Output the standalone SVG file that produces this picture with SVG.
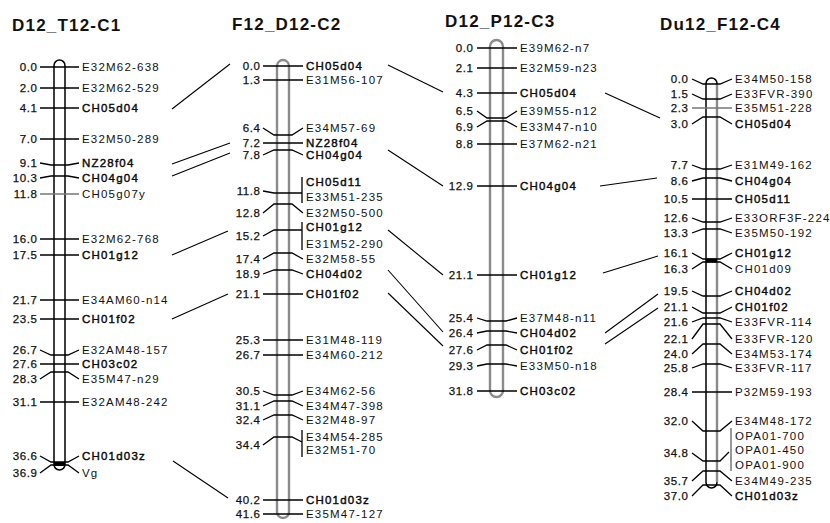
<svg xmlns="http://www.w3.org/2000/svg" width="830" height="523" viewBox="0 0 830 523">
<style>
text{font-family:"Liberation Sans",Arial,Helvetica,sans-serif;fill:#111}
.ttl{font-size:17px;font-weight:bold;letter-spacing:1.2px}
.nm{font-size:11.5px;letter-spacing:1.2px}
.num{font-size:11.5px;letter-spacing:0.6px;text-anchor:end;stroke:#111;stroke-width:0.25}
.ssr{stroke:#000;stroke-width:0.4}
.tk{fill:none;stroke:#000;stroke-width:1.3}
.lt{stroke:#777}
.br{fill:none;stroke:#000;stroke-width:1.3}
.bk{fill:#fff;stroke:#000;stroke-width:1.5}
.bg{fill:#fff;stroke:#8a8a8a;stroke-width:2.4}
.cn line{stroke:#000;stroke-width:1.1}
</style>

<g id="connectors" class="cn">
<line x1="172" y1="109" x2="230" y2="64"/>
<line x1="172" y1="164" x2="230" y2="143"/>
<line x1="172" y1="176" x2="230" y2="153"/>
<line x1="172" y1="255" x2="228" y2="231"/>
<line x1="172" y1="319" x2="228" y2="294"/>
<line x1="173" y1="461" x2="228" y2="498"/>
<line x1="388" y1="65" x2="443" y2="92"/>
<line x1="388" y1="150" x2="443" y2="186"/>
<line x1="388" y1="230" x2="443" y2="275"/>
<line x1="388" y1="270" x2="443" y2="332"/>
<line x1="388" y1="293" x2="443" y2="346"/>
<line x1="605" y1="93" x2="660" y2="118"/>
<line x1="600" y1="186" x2="657" y2="178"/>
<line x1="603" y1="273" x2="658" y2="256"/>
<line x1="605" y1="333" x2="658" y2="294"/>
<line x1="605" y1="344" x2="658" y2="308"/>
</g>

<g id="chr1">
<text class="ttl" x="12" y="31">D12_T12-C1</text>
<rect class="bk" x="54" y="60" width="11" height="410" rx="5.5"/>
<rect x="54" y="462" width="11" height="4" fill="#000"/>
<path class="tk" d="M40 67H79M40 88H79M40 108H79M40 139H79M40 163L51 165H68L79 163M40 178L51 176H68L79 178M40 239H79M40 255H79M40 300H79M40 319H79M40 350L51 355H68L79 350M40 364H79M40 379L51 372H68L79 379M40 402H79M40 456L51 462H68L79 456M40 473L51 465H68L79 473"/>
<path class="tk lt" d="M40 194H79"/>
<g>
<text class="num" x="37.6" y="71">0.0</text><text class="nm" x="82" y="71">E32M62-638</text>
<text class="num" x="37.6" y="92">2.0</text><text class="nm" x="82" y="92">E32M62-529</text>
<text class="num" x="37.6" y="112">4.1</text><text class="nm ssr" x="82" y="112">CH05d04</text>
<text class="num" x="37.6" y="143">7.0</text><text class="nm" x="82" y="143">E32M50-289</text>
<text class="num" x="37.6" y="167">9.1</text><text class="nm ssr" x="82" y="167">NZ28f04</text>
<text class="num" x="37.6" y="182">10.3</text><text class="nm ssr" x="82" y="182">CH04g04</text>
<text class="num" x="37.6" y="198">11.8</text><text class="nm" x="82" y="198">CH05g07y</text>
<text class="num" x="37.6" y="243">16.0</text><text class="nm" x="82" y="243">E32M62-768</text>
<text class="num" x="37.6" y="259">17.5</text><text class="nm ssr" x="82" y="259">CH01g12</text>
<text class="num" x="37.6" y="304">21.7</text><text class="nm" x="82" y="304">E34AM60-n14</text>
<text class="num" x="37.6" y="323">23.5</text><text class="nm ssr" x="82" y="323">CH01f02</text>
<text class="num" x="37.6" y="354">26.7</text><text class="nm" x="82" y="354">E32AM48-157</text>
<text class="num" x="37.6" y="368">27.6</text><text class="nm ssr" x="82" y="368">CH03c02</text>
<text class="num" x="37.6" y="383">28.3</text><text class="nm" x="82" y="383">E35M47-n29</text>
<text class="num" x="37.6" y="406">31.1</text><text class="nm" x="82" y="406">E32AM48-242</text>
<text class="num" x="37.6" y="460">36.6</text><text class="nm ssr" x="82" y="460">CH01d03z</text>
<text class="num" x="37.6" y="477">36.9</text><text class="nm" x="82" y="477">Vg</text>
</g>
</g>

<g id="chr2">
<text class="ttl" x="232" y="30">F12_D12-C2</text>
<rect class="bg" x="277" y="60" width="12" height="458" rx="6"/>
<path class="tk" d="M263 66H303M263 80H303M263 128L274 135H292L303 128M263 143H303M263 155L274 150H292L303 155M263 191L274 193H302M263 213L274 204H292L303 213M263 236L274 230H302M263 259L274 253H292L303 259M263 274L274 270H292L303 274M263 294H303M263 340H303M263 355H303M263 391L274 395H292L303 391M263 406L274 401H292L303 406M263 420L274 415H292L303 420M263 445L274 437H292L302 442M263 500H303M263 514H303"/>
<path class="br" d="M302 177V203M302 222V250M302 430V457"/>
<g>
<text class="num" x="260.6" y="70">0.0</text><text class="nm ssr" x="306" y="70">CH05d04</text>
<text class="num" x="260.6" y="84">1.3</text><text class="nm" x="306" y="84">E31M56-107</text>
<text class="num" x="260.6" y="132">6.4</text><text class="nm" x="306" y="132">E34M57-69</text>
<text class="num" x="260.6" y="147">7.2</text><text class="nm ssr" x="306" y="147">NZ28f04</text>
<text class="num" x="260.6" y="159">7.8</text><text class="nm ssr" x="306" y="159">CH04g04</text>
<text class="num" x="260.6" y="195">11.8</text><text class="nm ssr" x="306" y="186">CH05d11</text><text class="nm" x="306" y="201">E33M51-235</text>
<text class="num" x="260.6" y="217">12.8</text><text class="nm" x="306" y="217">E32M50-500</text>
<text class="num" x="260.6" y="240">15.2</text><text class="nm ssr" x="306" y="231">CH01g12</text><text class="nm" x="306" y="248">E31M52-290</text>
<text class="num" x="260.6" y="263">17.4</text><text class="nm" x="306" y="263">E32M58-55</text>
<text class="num" x="260.6" y="278">18.9</text><text class="nm ssr" x="306" y="278">CH04d02</text>
<text class="num" x="260.6" y="298">21.1</text><text class="nm ssr" x="306" y="298">CH01f02</text>
<text class="num" x="260.6" y="344">25.3</text><text class="nm" x="306" y="344">E31M48-119</text>
<text class="num" x="260.6" y="359">26.7</text><text class="nm" x="306" y="359">E34M60-212</text>
<text class="num" x="260.6" y="395">30.5</text><text class="nm" x="306" y="395">E34M62-56</text>
<text class="num" x="260.6" y="410">31.1</text><text class="nm" x="306" y="410">E34M47-398</text>
<text class="num" x="260.6" y="424">32.4</text><text class="nm" x="306" y="424">E32M48-97</text>
<text class="num" x="260.6" y="449">34.4</text><text class="nm" x="306" y="441">E34M54-285</text><text class="nm" x="306" y="454">E32M51-70</text>
<text class="num" x="260.6" y="504">40.2</text><text class="nm ssr" x="306" y="504">CH01d03z</text>
<text class="num" x="260.6" y="518">41.6</text><text class="nm" x="306" y="518">E35M47-127</text>
</g>
</g>

<g id="chr3">
<text class="ttl" x="445" y="27">D12_P12-C3</text>
<rect class="bg" x="490" y="40" width="13" height="357" rx="6.5"/>
<path class="tk" d="M477 48H517M477 68H517M477 93H517M477 111L487 118H506L517 111M477 127L487 121H506L517 127M477 144H517M477 186H517M477 275H517M477 318L487 321H506L517 318M477 333L487 331H506L517 333M477 350L487 345H506L517 350M477 366L487 364H506L517 366M477 391H517"/>
<g>
<text class="num" x="473.6" y="52">0.0</text><text class="nm" x="520" y="52">E39M62-n7</text>
<text class="num" x="473.6" y="72">2.1</text><text class="nm" x="520" y="72">E32M59-n23</text>
<text class="num" x="473.6" y="97">4.3</text><text class="nm ssr" x="520" y="97">CH05d04</text>
<text class="num" x="473.6" y="115">6.5</text><text class="nm" x="520" y="115">E39M55-n12</text>
<text class="num" x="473.6" y="131">6.9</text><text class="nm" x="520" y="131">E33M47-n10</text>
<text class="num" x="473.6" y="148">8.8</text><text class="nm" x="520" y="148">E37M62-n21</text>
<text class="num" x="473.6" y="190">12.9</text><text class="nm ssr" x="520" y="190">CH04g04</text>
<text class="num" x="473.6" y="279">21.1</text><text class="nm ssr" x="520" y="279">CH01g12</text>
<text class="num" x="473.6" y="322">25.4</text><text class="nm" x="520" y="322">E37M48-n11</text>
<text class="num" x="473.6" y="337">26.4</text><text class="nm ssr" x="520" y="337">CH04d02</text>
<text class="num" x="473.6" y="354">27.6</text><text class="nm ssr" x="520" y="354">CH01f02</text>
<text class="num" x="473.6" y="370">29.3</text><text class="nm" x="520" y="370">E33M50-n18</text>
<text class="num" x="473.6" y="395">31.8</text><text class="nm ssr" x="520" y="395">CH03c02</text>
</g>
</g>

<g id="chr4">
<text class="ttl" x="660" y="30">Du12_F12-C4</text>
<rect class="bk" x="706" y="78" width="11" height="410" rx="5.5"/>
<line x1="717" y1="84" x2="717" y2="482" stroke="#8a8a8a" stroke-width="2.4"/>
<rect x="706" y="258.5" width="11" height="4" fill="#000"/>
<path class="tk" d="M692 79L703 84H720L732 79M692 94L703 99H720L732 94M692 124L703 117H720L732 124M692 165L703 169H720L732 165M692 181L703 178H720L732 181M692 199H732M692 218L703 222H720L732 218M692 233L703 229H720L732 233M692 253L703 259H720L732 253M692 269L703 262H720L732 269M692 291L703 296H720L732 291M692 307L703 313H720L732 307M692 322L703 318H720L732 322M692 339L703 324H720L732 339M692 354L703 344H720L732 354M692 368L703 364H720L732 368M692 392H732M692 421L703 431H720L732 421M692 453L703 461H720L729 452M692 481L703 471H720L732 481M692 496L703 485H720L732 496"/>
<path class="tk lt" d="M692 108H732"/>
<path fill="none" stroke="#999" stroke-width="2" d="M731 428V471"/>
<g>
<text class="num" x="688.6" y="83">0.0</text><text class="nm" x="735" y="83">E34M50-158</text>
<text class="num" x="688.6" y="98">1.5</text><text class="nm" x="735" y="98">E33FVR-390</text>
<text class="num" x="688.6" y="112">2.3</text><text class="nm" x="735" y="112">E35M51-228</text>
<text class="num" x="688.6" y="128">3.0</text><text class="nm ssr" x="735" y="128">CH05d04</text>
<text class="num" x="688.6" y="169">7.7</text><text class="nm" x="735" y="169">E31M49-162</text>
<text class="num" x="688.6" y="185">8.6</text><text class="nm ssr" x="735" y="185">CH04g04</text>
<text class="num" x="688.6" y="203">10.5</text><text class="nm ssr" x="735" y="203">CH05d11</text>
<text class="num" x="688.6" y="222">12.6</text><text class="nm" x="735" y="222">E33ORF3F-224</text>
<text class="num" x="688.6" y="237">13.3</text><text class="nm" x="735" y="237">E35M50-192</text>
<text class="num" x="688.6" y="257">16.1</text><text class="nm ssr" x="735" y="257">CH01g12</text>
<text class="num" x="688.6" y="273">16.3</text><text class="nm" x="735" y="273">CH01d09</text>
<text class="num" x="688.6" y="295">19.5</text><text class="nm ssr" x="735" y="295">CH04d02</text>
<text class="num" x="688.6" y="311">21.1</text><text class="nm ssr" x="735" y="311">CH01f02</text>
<text class="num" x="688.6" y="326">21.6</text><text class="nm" x="735" y="326">E33FVR-114</text>
<text class="num" x="688.6" y="343">22.1</text><text class="nm" x="735" y="343">E33FVR-120</text>
<text class="num" x="688.6" y="358">24.0</text><text class="nm" x="735" y="358">E34M53-174</text>
<text class="num" x="688.6" y="372">25.8</text><text class="nm" x="735" y="372">E33FVR-117</text>
<text class="num" x="688.6" y="396">28.4</text><text class="nm" x="735" y="396">P32M59-193</text>
<text class="num" x="688.6" y="425">32.0</text><text class="nm" x="735" y="425">E34M48-172</text>
<text class="num" x="688.6" y="457">34.8</text><text class="nm" x="735" y="440">OPA01-700</text><text class="nm" x="735" y="454">OPA01-450</text><text class="nm" x="735" y="469">OPA01-900</text>
<text class="num" x="688.6" y="485">35.7</text><text class="nm" x="735" y="485">E34M49-235</text>
<text class="num" x="688.6" y="500">37.0</text><text class="nm ssr" x="735" y="500">CH01d03z</text>
</g>
</g>
</svg>
